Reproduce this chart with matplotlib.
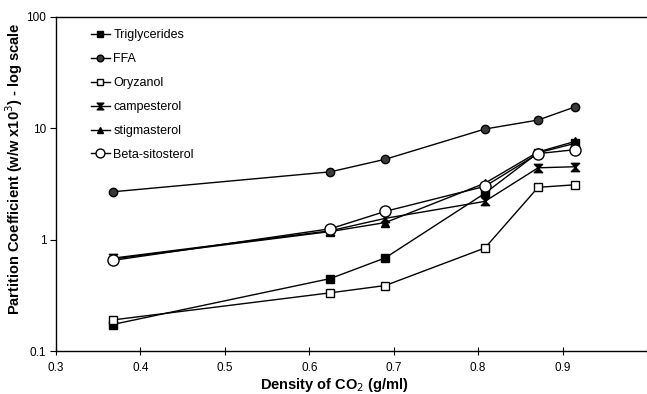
import numpy as np
import matplotlib.pyplot as plt
from matplotlib.path import Path
from matplotlib.ticker import FixedLocator, FixedFormatter, NullLocator

plt.rcParams['font.family'] = ['Liberation Sans', 'DejaVu Sans']

# Densidad del CO2 (g/ml)
densidad = [0.367, 0.625, 0.69, 0.808, 0.871, 0.915]

# Coeficientes de particion (w/w x10^3)
trigliceridos = [0.173, 0.447, 0.685, 2.6, 6.0, 7.3]
ffa = [2.68, 4.05, 5.25, 9.8, 11.8, 15.5]
orizanol = [0.19, 0.333, 0.387, 0.84, 2.94, 3.1]
campesterol = [0.68, 1.2, 1.55, 2.2, 4.4, 4.5]
estigmasterol = [0.67, 1.18, 1.42, 3.2, 6.1, 7.6]
beta_sitosterol = [0.65, 1.25, 1.79, 3.0, 5.9, 6.4]

y_ticks = [0.1, 1, 10, 100]
y_labels = ['0.1', '1', '10', '100']
x_ticks = [0.3, 0.4, 0.5, 0.6, 0.7, 0.8, 0.9, 1.0]
x_labels = ['0.3', '0.4', '0.5', '0.6', '0.7', '0.8', '0.9', '']

# marcador tipo reloj de arena
reloj = Path([(-1, 1), (1, 1), (-1, -1), (1, -1), (-1, 1)],
             [Path.MOVETO, Path.LINETO, Path.LINETO, Path.LINETO, Path.CLOSEPOLY])

fig = plt.figure(figsize=(6.47, 3.94), dpi=100)
ax = fig.add_axes([0.0866, 0.109, 0.9134, 0.849])

kw = dict(color='black', linewidth=1, markersize=6)
ax.plot(densidad, trigliceridos, marker='s', mfc='black', mec='black', label='Triglycerides', **kw)
ax.plot(densidad, ffa, marker='o', mfc='#3a3a3a', mec='black', label='FFA', **kw)
ax.plot(densidad, orizanol, marker='s', mfc='white', mec='black', label='Oryzanol', **kw)
ax.plot(densidad, campesterol, marker=reloj, mfc='black', mec='black', label='campesterol', **kw)
ax.plot(densidad, estigmasterol, marker='^', mfc='black', mec='black', label='stigmasterol', **kw)
ax.plot(densidad, beta_sitosterol, marker='o', mfc='white', mec='black', label='Beta-sitosterol',
        color='black', linewidth=1, markersize=8)

ax.set_yscale('log')
ax.set_ylim(0.1, 100)
ax.set_xlim(0.3, 1.0)
ax.yaxis.set_major_locator(FixedLocator(y_ticks))
ax.yaxis.set_major_formatter(FixedFormatter(y_labels))
ax.yaxis.set_minor_locator(NullLocator())
ax.xaxis.set_major_locator(FixedLocator(x_ticks))
ax.xaxis.set_major_formatter(FixedFormatter(x_labels))

ax.tick_params(axis='x', direction='inout', length=6, labelsize=8.5, pad=5)
ax.tick_params(axis='y', direction='out', length=4, labelsize=8.5, pad=3)
ax.spines['right'].set_visible(False)
for s in ['left', 'bottom', 'top']:
    ax.spines[s].set_linewidth(1)

ax.set_xlabel('Density of CO$_2$ (g/ml)', fontsize=10.5, fontweight='bold')
ax.set_ylabel('Partition Coefficient (w/w x10$^3$) - log scale', fontsize=10.5,
              fontweight='bold')
ax.xaxis.set_label_coords(0.472, -0.075)
ax.yaxis.set_label_coords(-0.053, 0.545)

ax.legend(loc='upper left', bbox_to_anchor=(0.04, 0.995), frameon=False, fontsize=9,
          handlelength=1.5, handletextpad=0.3, labelspacing=0.95, markerscale=0.8)

fig.savefig('out.png', dpi=100)
